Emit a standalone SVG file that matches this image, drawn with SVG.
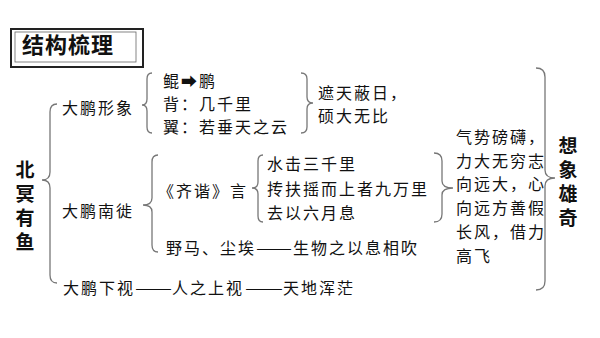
<svg xmlns="http://www.w3.org/2000/svg" width="600" height="338" viewBox="0 0 600 338">
<style>
text{font-family:"Noto Sans CJK SC","DejaVu Sans",sans-serif;fill:#111;dominant-baseline:central}
.t{font-size:16px;letter-spacing:2px}
.v{font-size:19px;font-weight:bold;writing-mode:tb;letter-spacing:5px}
.b{fill:none;stroke:#777;stroke-width:1.3}
.d{letter-spacing:0}
</style>
<rect width="600" height="338" fill="#fff"/>
<g id="title">
<rect x="11" y="29" width="132" height="38" fill="none" stroke="#222" stroke-width="2"/>
<rect x="15" y="32" width="121" height="30" fill="none" stroke="#666" stroke-width="0.8"/>
<text x="22" y="43" style="font-size:22px;font-weight:bold;letter-spacing:1px">结构梳理</text>
</g>
<g id="connectors">
<path class="b" d="M57,104 Q50,104 50,112 L50,172 Q50,180 42,180 Q50,180 50,188 L50,275 Q50,283 57,283"/>
<path class="b" d="M152,73 Q147,73 147,79 L147,99 Q147,105 142,105 Q147,105 147,111 L147,127 Q147,133 152,133"/>
<path class="b" d="M158,155 Q152,155 152,162 L152,198 Q152,205 143,205 Q152,205 152,212 L152,245 Q152,252 158,252"/>
<path class="b" d="M263,155 Q258,155 258,161 L258,182 Q258,188 252,188 Q258,188 258,194 L258,216 Q258,222 263,222"/>
<path class="b" d="M301,73 Q307,73 307,79 L307,97 Q307,103 313,103 Q307,103 307,109 L307,127 Q307,133 301,133"/>
<path class="b" d="M434,153 Q442,153 442,161 L442,181 Q442,188 453,188 Q442,188 442,195 L442,214 Q442,222 434,222"/>
<path class="b" d="M536,68 Q545,68 545,77 L545,170 Q545,178 555,178 Q545,178 545,186 L545,281 Q545,290 536,290"/>
</g>
<g id="root"><text class="v" x="25" y="160">北冥有鱼</text></g>
<g id="image"><text class="t" x="62" y="107">大鹏形象</text></g>
<g id="image-items">
<text class="t" x="163" y="80">鲲➡鹏</text>
<text class="t" x="163" y="103">背：几千里</text>
<text class="t" x="163" y="126">翼：若垂天之云</text>
</g>
<g id="image-summary">
<text class="t" x="318" y="92">遮天蔽日，</text>
<text class="t" x="318" y="115">硕大无比</text>
</g>
<g id="south"><text class="t" x="62" y="210">大鹏南徙</text></g>
<g id="qixie"><text class="t" x="158" y="190">《齐谐》言</text></g>
<g id="qixie-items">
<text class="t" x="267" y="163">水击三千里</text>
<text class="t" x="267" y="188">抟扶摇而上者九万里</text>
<text class="t" x="267" y="212">去以六月息</text>
</g>
<g id="yema"><text class="t" x="166" y="247">野马、尘埃<tspan class="d" x="256" textLength="36" lengthAdjust="spacingAndGlyphs">——</tspan><tspan x="293">生物之以息相吹</tspan></text></g>
<g id="summary">
<text class="t" x="456" y="136">气势磅礴，</text>
<text class="t" x="456" y="160">力大无穷志</text>
<text class="t" x="456" y="183">向远大，心</text>
<text class="t" x="456" y="207">向远方善假</text>
<text class="t" x="456" y="231">长风，借力</text>
<text class="t" x="456" y="255">高飞</text>
</g>
<g id="down"><text class="t" x="63" y="287">大鹏下视<tspan class="d" x="135" textLength="37" lengthAdjust="spacingAndGlyphs">——</tspan><tspan x="172">人之上视</tspan><tspan class="d" x="245" textLength="38" lengthAdjust="spacingAndGlyphs">——</tspan><tspan x="283">天地浑茫</tspan></text></g>
<g id="theme"><text class="v" x="568" y="136">想象雄奇</text></g>
</svg>
